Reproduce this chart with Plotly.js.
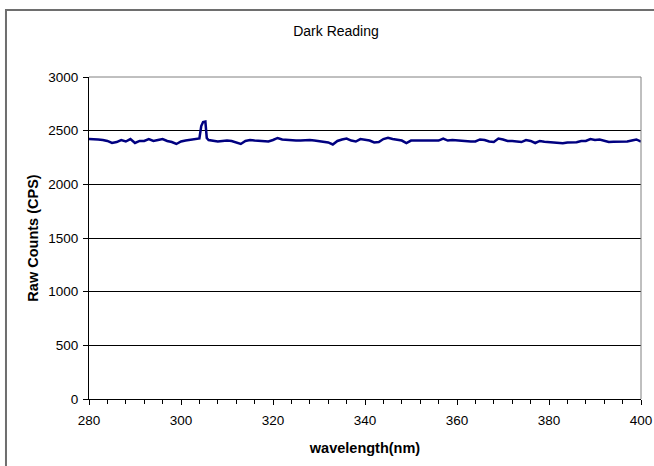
<!DOCTYPE html>
<html>
<head>
<meta charset="utf-8">
<script src="https://cdn.plot.ly/plotly-3.0.1.min.js"></script>
<style>
html,body{margin:0;padding:0;background:#fff;}
#chart{width:654px;height:466px;}
</style>
</head>
<body>
<div id="chart"></div>
<script>
const wavelength = [280,281,282,283,284,285,286,287,288,289,290,291,292,293,294,295,296,297,298,299,300,301,302,303,304,304.4,304.8,305.3,305.6,306,307,308,309,
310,311,312,313,314,315,316,317,318,319,320,321,322,323,324,325,326,327,328,329,330,331,332,333,334,335,336,337,338,339,
340,341,342,343,344,345,346,347,348,349,350,351,352,353,354,355,356,357,358,359,360,361,362,363,364,365,366,367,368,
369,370,371,372,373,374,375,376,377,378,379,380,381,382,383,384,385,386,387,388,389,390,391,392,393,394,395,396,397,398,399,400];
const rawCounts = [2422,2422,2418,2413,2404,2385,2394,2413,2399,2422,2385,2404,2404,2422,2404,2413,2422,2404,2394,2376,2399,2408,2413,2422,2427,2543,2580,2585,2432,2413,2404,2399,2404,
2408,2404,2390,2376,2404,2413,2408,2404,2404,2399,2413,2432,2418,2413,2408,2408,2408,2413,2413,2408,2404,2394,2390,2371,2404,2418,2427,2408,2399,2422,
2418,2408,2390,2394,2422,2434,2422,2418,2408,2385,2408,2408,2408,2408,2408,2404,2408,2427,2408,2413,2408,2404,2404,2399,2399,2418,2413,2399,2394,
2427,2418,2404,2404,2399,2394,2413,2404,2385,2404,2397,2394,2385,2382,2382,2390,2392,2392,2404,2404,2422,2413,2418,2404,2394,2397,2397,2399,2399,2408,2418,2399];
const chartTitle = 'Dark Reading';
const xTitle = 'wavelength(nm)';
const yTitle = 'Raw Counts (CPS)';

const trace = {
  x: wavelength, y: rawCounts, type: 'scatter', mode: 'lines',
  line: {color: '#000080', width: 2.5}, hoverinfo: 'skip'
};

const font = {family: 'Liberation Sans, Arial, sans-serif', color: '#000'};

const layout = {
  width: 654, height: 466,
  margin: {l: 89, r: 13, t: 77, b: 67, pad: 0},
  paper_bgcolor: '#fff', plot_bgcolor: '#fff',
  showlegend: false,
  font: Object.assign({}, font, {size: 13.5}),
  title: {text: chartTitle, font: Object.assign({}, font, {size: 14}), x: 336/654, xanchor: 'center', y: 1 - 31/466, yanchor: 'middle'},
  xaxis: {
    range: [280, 400], tick0: 280, dtick: 20, ticks: 'outside', ticklen: 5, tickcolor: '#000', tickwidth: 1,
    showline: true, linecolor: '#000', linewidth: 1, showgrid: false, zeroline: false,
    minor: {dtick: 4, ticks: 'outside', ticklen: 4, tickcolor: '#000', showgrid: false},
    tickfont: Object.assign({}, font, {size: 13.5}), ticklabelstandoff: 4,
    title: {text: xTitle, font: Object.assign({}, font, {size: 14.5, weight: 'bold'}), standoff: 15}
  },
  yaxis: {
    range: [0, 3000], tick0: 0, dtick: 500, ticks: 'outside', ticklen: 5, tickcolor: '#000', tickwidth: 1,
    showline: true, linecolor: '#000', linewidth: 1, showgrid: true, gridcolor: '#000', gridwidth: 1, zeroline: false,
    tickfont: Object.assign({}, font, {size: 13.5}), ticklabelstandoff: 2,
    title: {text: yTitle, font: Object.assign({}, font, {size: 14.5, weight: 'bold'}), standoff: 6}
  },
  shapes: [
    {type: 'path', xref: 'paper', yref: 'paper', path: 'M 0 1 L 1 1 L 1 0', line: {color: '#808080', width: 1}, layer: 'above'},
    {type: 'path', xref: 'paper', yref: 'paper', path: 'M -0.1504 -0.3 L -0.1504 1.2081 L 1.2 1.2081', line: {color: '#6e6e6e', width: 2}, layer: 'above'}
  ]
};

Plotly.newPlot('chart', [trace], layout, {displayModeBar: false, staticPlot: true});
</script>
</body>
</html>
